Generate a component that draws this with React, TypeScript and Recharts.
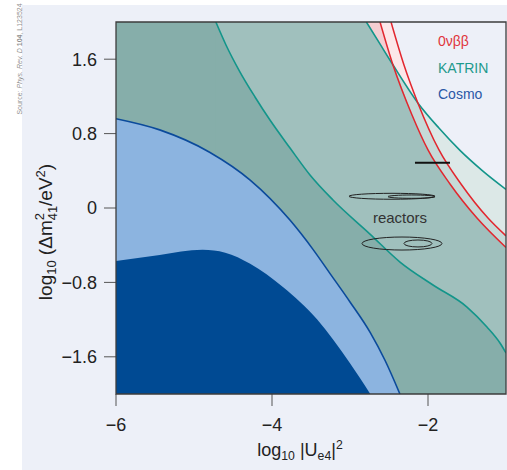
import React from 'react';
import { ComposedChart, Area, Line, XAxis, YAxis, ReferenceArea, ReferenceLine } from 'recharts';

type P = { x: number; y: number };

const xDomain = [-6, -1];
const yDomain = [-2, 2];
const xTicks = [-6, -4, -2];
const yTicks = [-1.6, -0.8, 0, 0.8, 1.6];

// KATRIN inner contour (teal)
const katrinInner: P[] = [
  { x: -4.72, y: 2.0 }, { x: -4.59, y: 1.753 }, { x: -4.41, y: 1.462 }, { x: -4.218, y: 1.194 },
  { x: -4.026, y: 0.946 }, { x: -3.769, y: 0.645 }, { x: -3.513, y: 0.355 }, { x: -3.218, y: 0.086 },
  { x: -2.744, y: -0.28 }, { x: -2.359, y: -0.581 }, { x: -1.936, y: -0.828 }, { x: -1.5, y: -1.065 },
  { x: -1.244, y: -1.28 }, { x: -1.077, y: -1.452 }, { x: -1.0, y: -1.559 },
];
// KATRIN outer contour (teal)
const katrinOuter: P[] = [
  { x: -2.79, y: 2.0 }, { x: -2.62, y: 1.77 }, { x: -2.45, y: 1.54 }, { x: -2.13, y: 1.13 },
  { x: -1.86, y: 0.86 }, { x: -1.59, y: 0.62 }, { x: -1.3, y: 0.4 }, { x: -1.0, y: 0.2 },
];
// 0vbb band edges (red)
const bbLower: P[] = [
  { x: -2.615, y: 2.0 }, { x: -2.45, y: 1.54 }, { x: -2.205, y: 1.0 }, { x: -2.0, y: 0.624 },
  { x: -1.718, y: 0.258 }, { x: -1.372, y: -0.108 }, { x: -1.0, y: -0.425 },
];
const bbUpper: P[] = [
  { x: -2.474, y: 2.0 }, { x: -2.308, y: 1.538 }, { x: -2.13, y: 1.13 }, { x: -1.859, y: 0.624 },
  { x: -1.577, y: 0.258 }, { x: -1.231, y: -0.108 }, { x: -1.0, y: -0.3 },
];
// Cosmology contours
const cosmoOuter: P[] = [
  { x: -6.0, y: 0.96 }, { x: -5.44, y: 0.84 }, { x: -4.8, y: 0.6 }, { x: -4.28, y: 0.3 },
  { x: -3.77, y: -0.13 }, { x: -3.47, y: -0.45 }, { x: -3.26, y: -0.7 }, { x: -3.0, y: -1.01 },
  { x: -2.74, y: -1.34 }, { x: -2.55, y: -1.64 }, { x: -2.36, y: -2.0 },
];
const cosmoInner: P[] = [
  { x: -6.0, y: -0.57 }, { x: -5.44, y: -0.505 }, { x: -4.89, y: -0.45 }, { x: -4.6, y: -0.48 },
  { x: -4.28, y: -0.6 }, { x: -3.86, y: -0.85 }, { x: -3.42, y: -1.2 }, { x: -3.0, y: -1.67 },
  { x: -2.74, y: -2.0 },
];
// Reactor contours (ellipses: x-range, y-range)
const reactorContours = [
  { x1: -3.013, x2: -1.91, y1: 0.094, y2: 0.158 },
  { x1: -2.513, x2: -1.91, y1: 0.104, y2: 0.14 },
  { x1: -2.846, x2: -1.821, y1: -0.452, y2: -0.312 },
  { x1: -2.308, x2: -1.949, y1: -0.419, y2: -0.344 },
];
const reactorBar: P[] = [{ x: -2.167, y: 0.487 }, { x: -1.718, y: 0.487 }];

const legendItems = [
  { label: '0νββ', color: '#e0353c' },
  { label: 'KATRIN', color: '#1e9a8d' },
  { label: 'Cosmo', color: '#2a58a6' },
];

const FONT = '"Liberation Sans", Arial, sans-serif';

function joinAt(a: P[], b: P[]): P[] {
  const k = b.findIndex((p) => a.some((q) => q.x === p.x && q.y === p.y));
  const cross = b[k];
  return [...a.filter((p) => p.x <= cross.x), ...b.slice(k + 1)];
}

const belowRed1 = joinAt(katrinOuter, bbLower);
const belowRed2 = joinAt(katrinOuter, bbUpper);

const fmt = (v: number) => (v === 0 ? '0' : String(v).replace('-', '\u2212'));

// small overlap so the full-height strip and the curve area meet without a seam
const SEAM = 0.012;

function region(key: string, curve: P[], fill: string) {
  const els: any[] = [];
  if (curve[0].x > xDomain[0]) {
    els.push(
      <Area key={key + '-s'} data={[{ x: xDomain[0], y: yDomain[1] }, { x: curve[0].x + SEAM, y: yDomain[1] }]}
        dataKey="y" type="linear" baseValue={yDomain[0]} fill={fill} fillOpacity={1} stroke="none"
        dot={false} activeDot={false} isAnimationActive={false} />
    );
  }
  els.push(
    <Area key={key} data={curve} dataKey="y" type="monotone" baseValue={yDomain[0]} fill={fill}
      fillOpacity={1} stroke="none" dot={false} activeDot={false} isAnimationActive={false} />
  );
  return els;
}

function curveLine(key: string, curve: P[], stroke: string, w: number) {
  return (
    <Line key={key} data={curve} dataKey="y" type="monotone" stroke={stroke} strokeWidth={w}
      dot={false} activeDot={false} isAnimationActive={false} />
  );
}

const sub: React.CSSProperties = { fontSize: '0.68em', verticalAlign: '-0.3em', lineHeight: 0 };
const sup: React.CSSProperties = { fontSize: '0.68em', verticalAlign: '0.55em', lineHeight: 0 };

export default function App() {
  return (
    <div style={{ position: 'relative', width: 507, height: 470, background: '#fff', fontFamily: FONT, overflow: 'hidden' }}>
      <style>{'body{margin:0}'}</style>
      <div style={{ position: 'absolute', left: 22, top: 5, width: 485, height: 465, background: '#edf0f8' }} />
      <div style={{ position: 'absolute', left: 0, top: 0 }}>
        <ComposedChart width={507} height={470} margin={{ top: 22, right: 1, bottom: 36, left: 56 }}>
          <XAxis type="number" dataKey="x" domain={xDomain} ticks={xTicks} tickFormatter={fmt}
            allowDataOverflow axisLine={false} tickLine={{ stroke: '#555' }} tickSize={12} tickMargin={12}
            height={40} tick={{ fontSize: 18, fill: '#222', fontFamily: FONT }} />
          <YAxis type="number" dataKey="y" domain={yDomain} ticks={yTicks} tickFormatter={fmt}
            allowDataOverflow axisLine={false} tickLine={{ stroke: '#555' }} tickSize={12} tickMargin={7}
            width={60} tick={{ fontSize: 18, fill: '#222', fontFamily: FONT }} />
          {region('e', bbUpper, '#fce7e9')}
          {region('d', bbLower, '#f4ced2')}
          {region('c', katrinOuter, '#dce8e7')}
          {region('b', belowRed2, '#c6dad8')}
          {region('a', belowRed1, '#a0c0bd')}
          {region('k', katrinInner, '#86aeaa')}
          {region('co', cosmoOuter, '#8cb4e0')}
          {region('ci', cosmoInner, '#004a93')}
          {curveLine('l1', katrinInner, '#13958a', 1.6)}
          {curveLine('l2', katrinOuter, '#13958a', 1.6)}
          {curveLine('l3', bbLower, '#e2262e', 1.5)}
          {curveLine('l4', bbUpper, '#e2262e', 1.5)}
          {curveLine('l5', cosmoOuter, '#0b4a9b', 1.6)}
          {reactorContours.map((r, i) => (
            <ReferenceArea key={'r' + i} x1={r.x1} x2={r.x2} y1={r.y1} y2={r.y2} zIndex={700}
              shape={(p: any) => (
                <ellipse cx={p.x + p.width / 2} cy={p.y + p.height / 2} rx={Math.abs(p.width) / 2}
                  ry={Math.abs(p.height) / 2} fill="none" stroke="#222" strokeWidth={1} />
              )} />
          ))}
          <ReferenceLine segment={reactorBar} stroke="#111" strokeWidth={2} zIndex={700} />
          <ReferenceArea x1={xDomain[0]} x2={xDomain[1]} y1={yDomain[0]} y2={yDomain[1]} fill="none"
            fillOpacity={0} stroke="#3d3d3d" strokeWidth={1.3} zIndex={800} />
        </ComposedChart>
      </div>
      {legendItems.map((it, i) => (
        <div key={it.label} style={{ position: 'absolute', left: 438, top: 33 + i * 26.7, fontSize: 14, lineHeight: '17px', color: it.color, whiteSpace: 'nowrap' }}>
          {it.label}
        </div>
      ))}
      <div style={{ position: 'absolute', left: 400, top: 217, transform: 'translate(-50%,-50%)', fontSize: 15, color: '#333', whiteSpace: 'nowrap' }}>
        reactors
      </div>
      <div style={{ position: 'absolute', left: 300, top: 450, transform: 'translate(-50%,-50%)', fontSize: 18, color: '#222', whiteSpace: 'nowrap', lineHeight: '20px' }}>
        log<span style={sub}>10</span> |U<span style={sub}>e4</span>|<span style={sup}>2</span>
      </div>
      <div style={{ position: 'absolute', left: 47, top: 232, transform: 'translate(-50%,-50%) rotate(-90deg)', fontSize: 19, color: '#222', whiteSpace: 'nowrap', lineHeight: '21px' }}>
        log<span style={sub}>10</span> (Δm
        <span style={{ display: 'inline-flex', flexDirection: 'column', fontSize: '0.68em', lineHeight: 1, verticalAlign: 'middle', textAlign: 'left' }}>
          <span>2</span><span>41</span>
        </span>
        /eV<span style={sup}>2</span>)
      </div>
      <div style={{ position: 'absolute', left: 18.5, top: 59, transform: 'translate(-50%,-50%) rotate(-90deg)', fontSize: 7, color: '#8f8f8f', whiteSpace: 'nowrap' }}>
        Source: <i>Phys. Rev. D</i> <b>104</b>, L123524
      </div>
    </div>
  );
}
